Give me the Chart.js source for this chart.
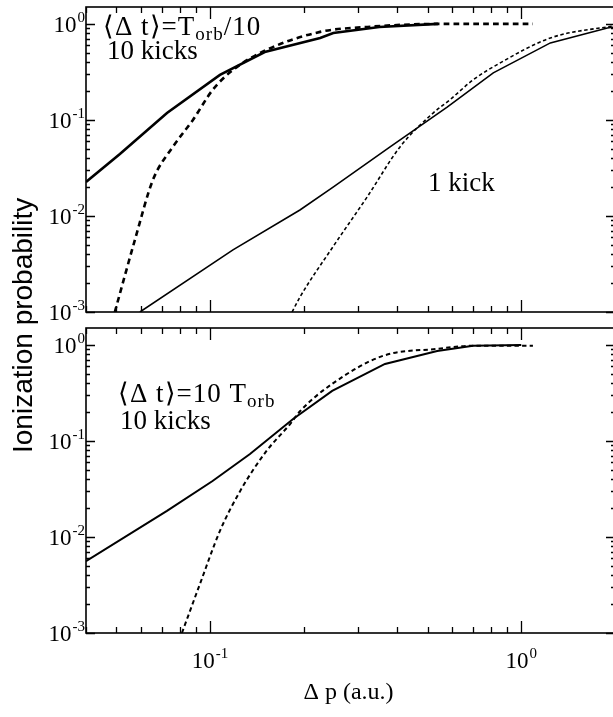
<!DOCTYPE html>
<html>
<head>
<meta charset="utf-8">
<script src="https://cdn.jsdelivr.net/npm/chart.js@4.4.1/dist/chart.umd.min.js"></script>
<style>
  html, body { margin: 0; padding: 0; background: #fff; overflow: hidden; }
  #wrap { position: relative; width: 613px; height: 717px; overflow: hidden; }
  canvas { position: absolute; left: 0; top: 0; }
</style>
</head>
<body>
<div id="wrap">
  <canvas id="topChart" width="620" height="717"></canvas>
  <canvas id="bottomChart" width="620" height="717"></canvas>
</div>
<script>
// top panel: <dt> = Torb/10, 10 kicks and 1 kick
const xTopSolid10 = [0.04, 0.0514, 0.0728, 0.1077, 0.15, 0.226, 0.249, 0.35, 0.54];
const yTopSolid10 = [0.0226, 0.0442, 0.118, 0.294, 0.51, 0.714, 0.805, 0.93, 1.0];
const xTopDash10 = [0.0495, 0.0574, 0.0656, 0.076, 0.0882, 0.102, 0.1186, 0.152, 0.226, 0.32, 0.54, 1.09];
const yTopDash10 = [0.001, 0.0056, 0.0237, 0.0524, 0.1, 0.205, 0.332, 0.536, 0.826, 0.93, 1.0, 1.0];
const xTopSolid1 = [0.0596, 0.1186, 0.1946, 0.2487, 0.379, 0.578, 0.813, 1.24, 1.89, 2.0];
const yTopSolid1 = [0.001, 0.00443, 0.01155, 0.02, 0.0524, 0.136, 0.309, 0.634, 0.908, 0.93];
const xTopDash1 = [0.1836, 0.1946, 0.2487, 0.32, 0.408, 0.521, 0.59, 0.70, 0.856, 1.24, 1.89, 2.0];
const yTopDash1 = [0.001, 0.00143, 0.0048, 0.0158, 0.0524, 0.118, 0.162, 0.261, 0.393, 0.714, 0.93, 0.95];

// bottom panel: <dt> = 10 Torb, 10 kicks
const xBotSolid = [0.04, 0.0728, 0.102, 0.1345, 0.185, 0.247, 0.365, 0.537, 0.70, 1.0];
const yBotSolid = [0.0056, 0.0187, 0.0383, 0.0732, 0.169, 0.332, 0.634, 0.866, 0.98, 1.0];
const xBotDash = [0.0813, 0.0929, 0.1077, 0.125, 0.152, 0.181, 0.195, 0.249, 0.36, 0.537, 0.70, 1.09];
const yBotDash = [0.001, 0.00324, 0.01155, 0.030, 0.0787, 0.15, 0.205, 0.40, 0.77, 0.91, 0.98, 0.98];

// axes
const xMin = 0.04, xMax = 2;
const yMin = 0.001, yMax = 1.5;
const xMajorTicks = [0.1, 1];
const xTickExps = ['-1', '0'];
const xMinorTicks = [0.04, 0.05, 0.06, 0.07, 0.08, 0.09, 0.2, 0.3, 0.4, 0.5, 0.6, 0.7, 0.8, 0.9, 2];
const yMajorTicks = [0.001, 0.01, 0.1, 1];
const yTickExps = ['-3', '-2', '-1', '0'];
const yMinorTicks = [];
yMajorTicks.slice(0, 3).forEach((d) => {
  for (let k = 2; k <= 9; k++) yMinorTicks.push(d * k);
});

const serif = '"Liberation Serif", "Times New Roman", serif';

function pts(xs, ys) {
  return xs.map((x, i) => ({ x: x, y: ys[i] }));
}

function drawPow(ctx, base, exp, x, y, align) {
  ctx.font = '23px ' + serif;
  const wb = ctx.measureText(base).width;
  ctx.font = '15px ' + serif;
  const we = ctx.measureText(exp).width;
  const x0 = align === 'right' ? x - wb - we - 1 : x - (wb + we + 1) / 2;
  ctx.textAlign = 'left';
  ctx.textBaseline = 'alphabetic';
  ctx.font = '23px ' + serif;
  ctx.fillText(base, x0, y);
  ctx.font = '15px ' + serif;
  ctx.fillText(exp, x0 + wb + 1, y - 10);
}

// text with a subscript piece: parts = [[text, isSub], ...]
function drawRich(ctx, parts, x, y, spacing) {
  ctx.textAlign = 'left';
  ctx.textBaseline = 'alphabetic';
  ctx.letterSpacing = (spacing || 0) + 'px';
  let cx = x;
  parts.forEach(([t, sub]) => {
    ctx.font = (sub ? '19px ' : '27px ') + serif;
    ctx.fillText(t, cx, sub ? y + 5 : y);
    cx += ctx.measureText(t).width;
  });
  ctx.letterSpacing = '0px';
}

const frameTicks = {
  id: 'frameTicks',
  afterDraw(chart, args, opts) {
    const { ctx, chartArea: a, scales: { x, y } } = chart;
    ctx.save();
    ctx.strokeStyle = '#000';
    ctx.fillStyle = '#000';
    ctx.lineWidth = 1.6;
    ctx.strokeRect(a.left, a.top, a.right - a.left, a.bottom - a.top);

    ctx.lineWidth = 1.3;
    ctx.beginPath();
    const xTick = (v, len) => {
      const px = Math.round(x.getPixelForValue(v)) + 0.5;
      ctx.moveTo(px, a.bottom); ctx.lineTo(px, a.bottom - len);
      ctx.moveTo(px, a.top); ctx.lineTo(px, a.top + len);
    };
    const yTick = (v, len) => {
      const py = Math.round(y.getPixelForValue(v)) + 0.5;
      ctx.moveTo(a.left, py); ctx.lineTo(a.left + len, py);
      ctx.moveTo(a.right, py); ctx.lineTo(a.right - len, py);
    };
    xMajorTicks.forEach((v) => xTick(v, 12));
    xMinorTicks.forEach((v) => xTick(v, 6));
    yMajorTicks.forEach((v) => yTick(v, 9));
    yMinorTicks.forEach((v) => yTick(v, 4));
    ctx.stroke();

    yMajorTicks.forEach((v, i) => {
      drawPow(ctx, '10', yTickExps[i], a.left - 1, y.getPixelForValue(v) + 8, 'right');
    });

    if (opts.xLabels) {
      xMajorTicks.forEach((v, i) => {
        drawPow(ctx, '10', xTickExps[i], x.getPixelForValue(v), a.bottom + 35, 'center');
      });
      ctx.font = '24px ' + serif;
      ctx.textAlign = 'center';
      ctx.fillText('\u0394 p (a.u.)', (a.left + a.right) / 2 - 2, a.bottom + 66);
    }

    if (opts.yTitle) {
      ctx.save();
      ctx.translate(32, 453);
      ctx.rotate(-Math.PI / 2);
      ctx.font = '28px "Liberation Sans", Arial, sans-serif';
      ctx.textAlign = 'left';
      ctx.textBaseline = 'alphabetic';
      ctx.fillText('Ionization probability', 0, 0);
      ctx.restore();
    }

    opts.notes.forEach((n) => drawRich(ctx, n.parts, n.x, n.y, n.spacing));
    ctx.restore();
  }
};

function lineSet(data, width, dashed) {
  return {
    data: data,
    borderColor: '#000',
    borderWidth: width,
    borderDash: dashed ? [width * 2.2, width * 1.6] : [],
    pointRadius: 0,
    fill: false,
    tension: 0,
    cubicInterpolationMode: dashed ? 'monotone' : 'default'
  };
}

function makeChart(id, datasets, padding, pluginOpts) {
  return new Chart(document.getElementById(id), {
    type: 'line',
    data: { datasets: datasets },
    options: {
      responsive: false,
      animation: false,
      events: [],
      layout: { padding: padding },
      plugins: { legend: { display: false }, tooltip: { enabled: false }, frameTicks: pluginOpts },
      scales: {
        x: { type: 'logarithmic', min: xMin, max: xMax, display: false },
        y: { type: 'logarithmic', min: yMin, max: yMax, display: false }
      }
    },
    plugins: [frameTicks]
  });
}

makeChart('topChart', [
  lineSet(pts(xTopSolid10, yTopSolid10), 2.6, false),
  lineSet(pts(xTopDash10, yTopDash10), 2.6, true),
  lineSet(pts(xTopSolid1, yTopSolid1), 1.6, false),
  lineSet(pts(xTopDash1, yTopDash1), 1.6, true)
], { left: 86, right: 5, top: 7, bottom: 405 }, {
  xLabels: false,
  yTitle: true,
  notes: [
    { parts: [['\u27E8\u0394 t\u27E9=T', false], ['orb', true], ['/10', false]], x: 103, y: 35, spacing: 1 },
    { parts: [['10 kicks', false]], x: 107, y: 59 },
    { parts: [['1 kick', false]], x: 428, y: 191 }
  ]
});

makeChart('bottomChart', [
  lineSet(pts(xBotSolid, yBotSolid), 2, false),
  lineSet(pts(xBotDash, yBotDash), 2, true)
], { left: 86, right: 5, top: 328, bottom: 84 }, {
  xLabels: true,
  yTitle: false,
  notes: [
    { parts: [['\u27E8\u0394 t\u27E9=10 T', false], ['orb', true]], x: 118, y: 402, spacing: 1 },
    { parts: [['10 kicks', false]], x: 120, y: 429 }
  ]
});
</script>
</body>
</html>
